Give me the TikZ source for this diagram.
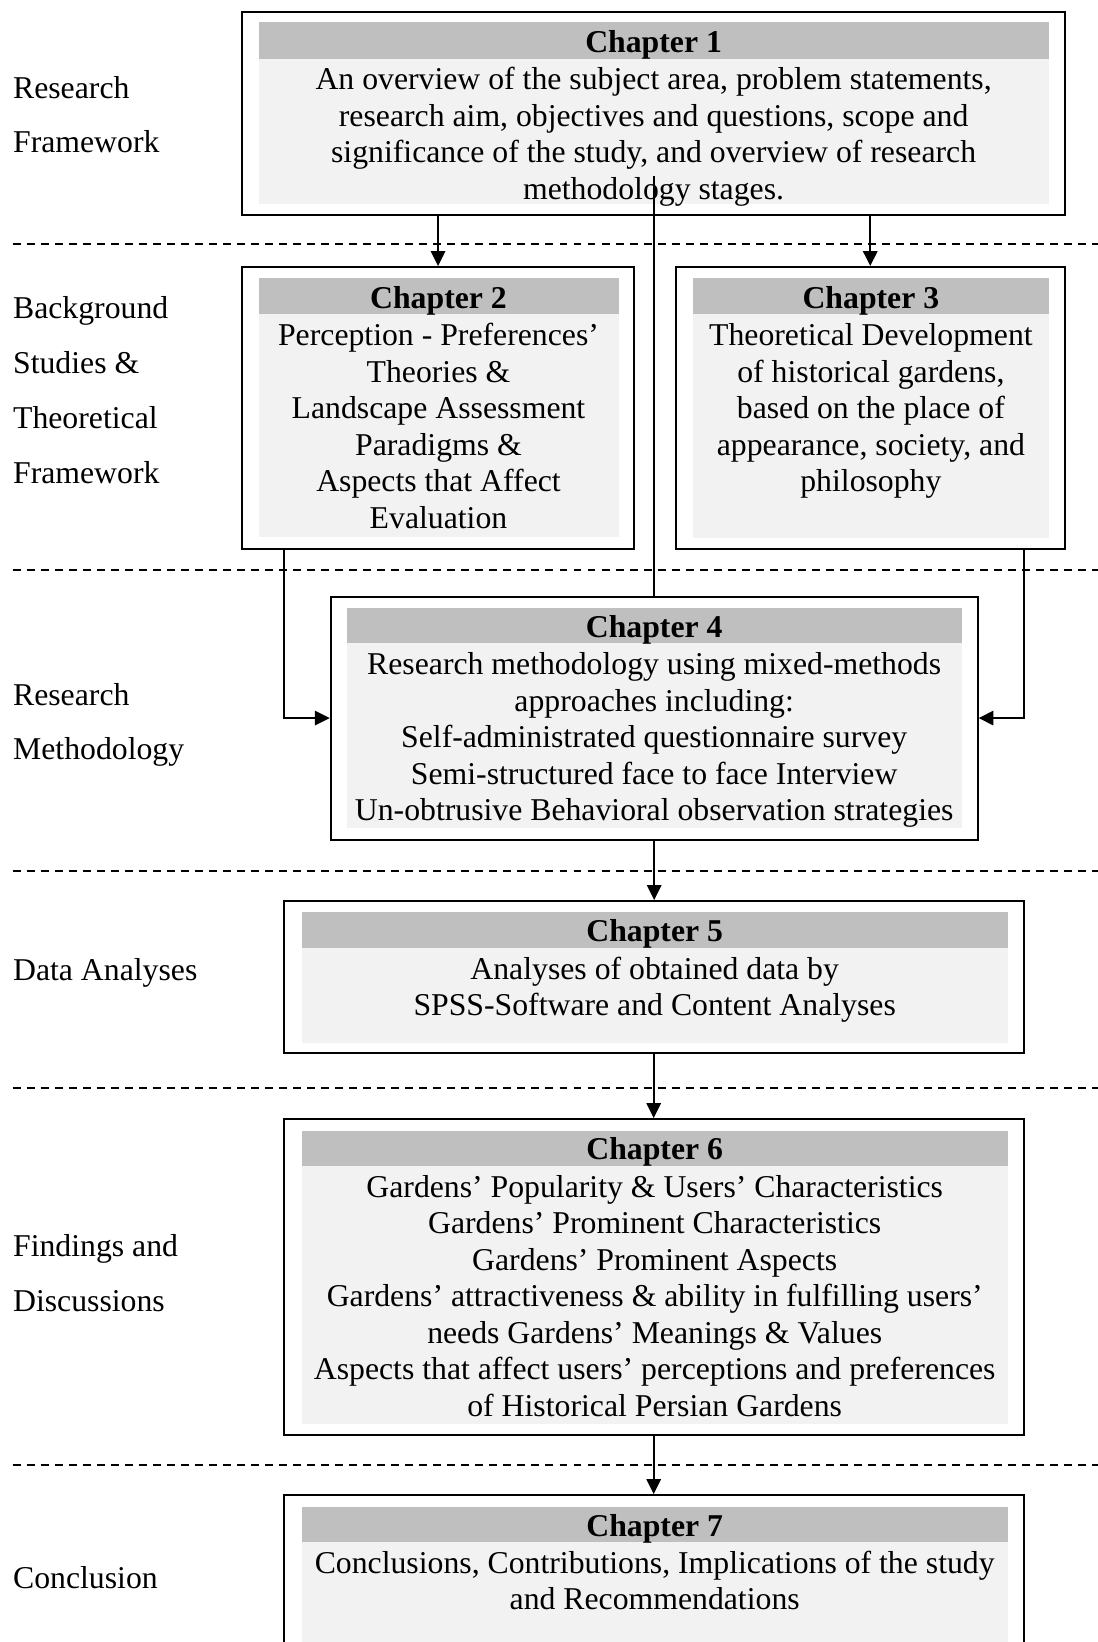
\documentclass[tikz,border=0pt]{standalone}
\usepackage{fontspec}
\setmainfont{Liberation Serif}
\usetikzlibrary{fit,arrows.meta}
\definecolor{headgray}{HTML}{BFBFBF}
\definecolor{bodygray}{HTML}{F2F2F2}
\begin{document}
\begin{tikzpicture}[x=0.378pt,y=-0.378pt,
  frame/.style={draw, line width=0.75pt, inner sep=0pt},
  hdtxt/.style={font=\fontsize{12pt}{13.8pt}\selectfont\bfseries, inner sep=0pt, yshift=-1.6pt},
  bodytxt/.style={font=\fontsize{12pt}{13.8pt}\selectfont, align=center, inner sep=0pt, yshift=-1.6pt},
  sidelbl/.style={font=\fontsize{12pt}{20.7pt}\selectfont, align=left, anchor=west, inner sep=0pt},
  sep/.style={line width=0.75pt, dash pattern=on 3pt off 2.3pt},
  conn/.style={line width=0.75pt},
  arr/.style={conn, -{Triangle[length=5.6pt,width=5.4pt]}},
]
\useasboundingbox (0,0) rectangle (1098,1642);

% separators
\draw[sep] (12.7,243.5) -- (1098,243.5);
\draw[sep] (12.7,570.3) -- (1098,570.3);
\draw[sep] (12.7,870.6) -- (1098,870.6);
\draw[sep] (12.7,1087.5) -- (1098,1087.5);
\draw[sep] (12.7,1464.5) -- (1098,1464.5);

% side labels
\node[sidelbl] (s1) at (12.6,114.6) {Research\\Framework};
\node[sidelbl] (s2) at (12.6,390.2) {Background\\Studies \&\\Theoretical\\Framework};
\node[sidelbl] (s3) at (12.6,724.8) {Research\\Methodology};
\node[sidelbl] (s4) at (12.6,973) {Data Analyses};
\node[sidelbl] (s5) at (12.6,1273.3) {Findings and\\Discussions};
\node[sidelbl] (s6) at (12.6,1578) {Conclusion};

% Box 1
\fill[bodygray] (258.5,22) rectangle (1048.8,204);
\fill[headgray] (258.5,22) rectangle (1048.8,58.6);
\node[frame, fit={(241.8,11.5) (1064.5,214.6)}] (b1) {};
\node[hdtxt] (h1) at (653.6,40.3) {Chapter 1};
\node[bodytxt] (t1) at (653.6,132.7) {An overview of the subject area, problem statements,\\research aim, objectives and questions, scope and\\significance of the study, and overview of research\\methodology stages.};

% Box 2
\fill[bodygray] (258.5,278.4) rectangle (618.6,537);
\fill[headgray] (258.5,278.4) rectangle (618.6,314);
\node[frame, fit={(241.8,267) (634.3,548.5)}] (b2) {};
\node[hdtxt] (h2) at (438.5,296.2) {Chapter 2};
\node[bodytxt] (t2) at (438.5,421.6) {Perception - Preferences’\\Theories \&\\Landscape Assessment\\Paradigms \&\\Aspects that Affect\\Evaluation};

% Box 3
\fill[bodygray] (693,278.4) rectangle (1048.8,538);
\fill[headgray] (693,278.4) rectangle (1048.8,314);
\node[frame, fit={(676,267) (1064.5,548.5)}] (b3) {};
\node[hdtxt] (h3) at (870.9,296.2) {Chapter 3};
\node[bodytxt] (t3) at (870.9,407) {Theoretical Development\\of historical gardens,\\based on the place of\\appearance, society, and\\philosophy};

% Box 4
\fill[bodygray] (346.5,608) rectangle (962,828);
\fill[headgray] (346.5,608) rectangle (962,643);
\node[frame, fit={(330.8,596.6) (977.6,839.5)}] (b4) {};
\node[hdtxt] (h4) at (654.2,625.5) {Chapter 4};
\node[bodytxt] (t4) at (654.2,735.8) {Research methodology using mixed-methods\\approaches including:\\Self-administrated questionnaire survey\\Semi-structured face to face Interview\\Un-obtrusive Behavioral observation strategies};

% Box 5
\fill[bodygray] (301.5,911.7) rectangle (1008,1042.5);
\fill[headgray] (301.5,911.7) rectangle (1008,948);
\node[frame, fit={(283.7,901) (1023.7,1053)}] (b5) {};
\node[hdtxt] (h5) at (654.7,929.9) {Chapter 5};
\node[bodytxt] (t5) at (654.7,985.5) {Analyses of obtained data by\\SPSS-Software and Content Analyses};

% Box 6
\fill[bodygray] (301.5,1130.5) rectangle (1008,1423.5);
\fill[headgray] (301.5,1130.5) rectangle (1008,1166);
\node[frame, fit={(283.7,1119) (1023.7,1434.5)}] (b6) {};
\node[hdtxt] (h6) at (654.7,1148) {Chapter 6};
\node[bodytxt] (t6) at (654.7,1291.6) {Gardens’ Popularity \& Users’ Characteristics\\Gardens’ Prominent Characteristics\\Gardens’ Prominent Aspects\\Gardens’ attractiveness \& ability in fulfilling users’\\needs Gardens’ Meanings \& Values\\Aspects that affect users’ perceptions and preferences\\of Historical Persian Gardens};

% Box 7
\fill[bodygray] (301.5,1507) rectangle (1008,1660);
\fill[headgray] (301.5,1507) rectangle (1008,1542);
\node[frame, fit={(283.7,1495) (1023.7,1700)}] (b7) {};
\node[hdtxt] (h7) at (654.7,1524.5) {Chapter 7};
\node[bodytxt] (t7) at (654.7,1576) {Conclusions, Contributions, Implications of the study\\and Recommendations};

% connectors
\coordinate (c1) at (654.2,176);
\coordinate (lx) at (283.7,0);
\coordinate (rx) at (1023.7,0);
\draw[arr] (b1.south -| b2.north) -- (b2.north);
\draw[arr] (b1.south -| b3.north) -- (b3.north);
\draw[conn] (c1) -- (b4.north);
\draw[arr] (b2.south -| lx) |- (b4.west);
\draw[arr] (b3.south -| rx) |- (b4.east);
\draw[arr] (b4.south) -- (b4.south |- b5.north);
\draw[arr] (b5.south) -- (b6.north);
\draw[arr] (b6.south) -- (b7.north);
\end{tikzpicture}
\end{document}
